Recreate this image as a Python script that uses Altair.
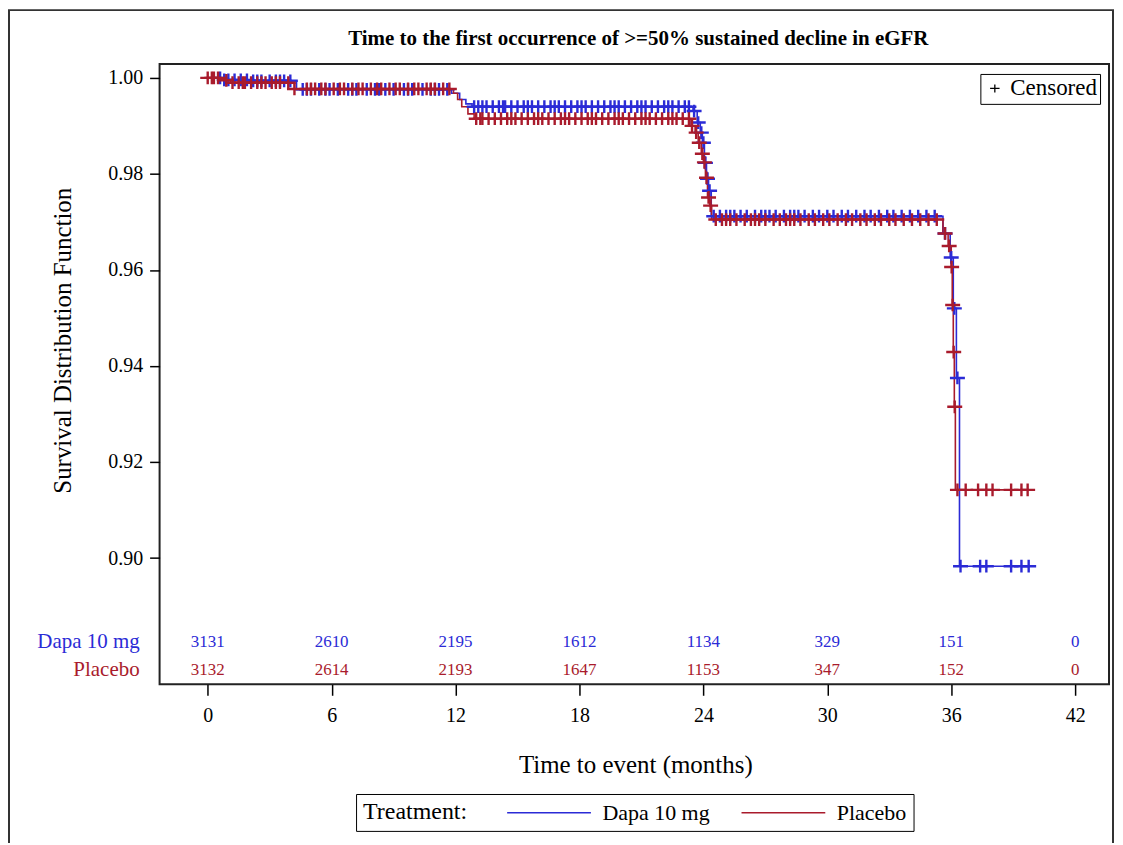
import altair as alt
import pandas as pd

FONT = "Liberation Serif"

arms = ["Dapa 10 mg", "Placebo"]
colors = ["#2b2bd6", "#a91b2c"]

# Kaplan-Meier event steps (time in months, survival after the step)
dapa_event_t = [0.8, 2.0, 4.3, 11.8, 12.2, 12.5, 12.8, 23.5, 23.7, 23.85, 23.95, 24.05, 24.15,
                24.25, 24.38, 35.6, 35.95, 36.1, 36.25, 36.4]
dapa_event_s = [0.9996, 0.9994, 0.9976, 0.9968, 0.9955, 0.9946, 0.9940, 0.9931, 0.9907, 0.9886,
                0.9865, 0.9823, 0.9790, 0.9765, 0.9712, 0.9676, 0.9626, 0.9520, 0.9375, 0.8983]
dapa_end = 39.75

pla_event_t = [0.7, 1.1, 4.2, 11.9, 12.1, 12.3, 12.6, 12.9, 23.4, 23.6, 23.75, 23.9, 24.0, 24.1,
               24.2, 24.3, 24.4, 35.6, 35.85, 36.0, 36.05, 36.1, 36.15, 36.2]
pla_event_s = [0.9995, 0.9990, 0.9977, 0.9968, 0.9955, 0.9940, 0.9925, 0.9915, 0.9900, 0.9886,
               0.9865, 0.9842, 0.9824, 0.9792, 0.9751, 0.9734, 0.9705, 0.9676, 0.9650, 0.9606,
               0.9527, 0.9429, 0.9315, 0.9142]
pla_end = 39.7

# censoring times
dapa_cens_t = [0.6, 0.8, 1.0, 1.3, 1.6, 1.9, 2.2, 2.4, 2.6, 3.0, 3.3, 3.5, 3.7, 4.0,
               4.6, 4.8, 5.0, 5.4, 5.7, 5.9, 6.3, 6.8, 7.0, 7.2, 7.7, 8.1, 8.3, 8.6, 9.0, 9.5,
               9.7, 9.9, 10.4, 10.8, 11.0, 11.2, 11.6,
               12.9, 13.1, 13.3, 13.5, 13.8, 14.1, 14.3, 14.4, 14.7, 15.0, 15.3, 15.5, 15.7, 16.0,
               16.3, 16.6, 16.8, 17.0, 17.3, 17.6, 17.9, 18.1, 18.3, 18.6, 18.9, 19.2, 19.5, 19.7,
               19.9, 20.2, 20.5, 20.8, 21.0, 21.2, 21.5, 21.8, 22.1, 22.3, 22.5, 22.8, 23.1, 23.3,
               23.55, 23.75, 23.9, 24.0, 24.1, 24.2, 24.3,
               24.5, 24.8, 25.1, 25.3, 25.5, 25.8, 26.1, 26.5, 26.8, 27.0, 27.2, 27.5, 27.9, 28.2,
               28.4, 28.6, 28.9, 29.3, 29.6, 30.0, 30.3, 30.7, 31.0, 31.4, 31.8, 32.1, 32.5, 32.9,
               33.2, 33.6, 34.0, 34.4, 34.8, 35.2,
               35.7, 36.0, 36.15, 36.3,
               36.45, 37.4, 37.7, 38.9, 39.4, 39.75]
pla_cens_t = [0.0, 0.2, 0.3, 0.5, 0.9, 1.2, 1.5, 1.7, 1.8, 2.1, 2.4, 2.6, 2.8, 3.1, 3.3, 3.5,
              3.9, 4.2,
              4.8, 5.0, 5.2, 5.5, 5.7, 6.1, 6.4, 6.6, 7.0, 7.3, 7.5, 7.9, 8.2, 8.4, 8.8, 9.1, 9.3,
              9.7, 10.0, 10.2, 10.6, 10.8, 11.0, 11.4, 11.7,
              13.0, 13.2, 13.3, 13.6, 13.9, 14.2, 14.5, 14.7, 14.9, 15.2, 15.5, 15.8, 16.0, 16.2,
              16.5, 16.8, 17.1, 17.3, 17.5, 17.8, 18.1, 18.4, 18.6, 18.8, 19.1, 19.4, 19.7, 19.9,
              20.1, 20.4, 20.7, 21.0, 21.2, 21.4, 21.7, 22.0, 22.3, 22.5, 22.7, 23.0, 23.3,
              23.45, 23.65, 23.8, 23.95, 24.05, 24.15, 24.25, 24.35,
              24.6, 24.9, 25.1, 25.3, 25.6, 26.0, 26.3, 26.5, 26.7, 27.0, 27.4, 27.7, 28.0, 28.2,
              28.4, 28.7, 29.1, 29.4, 29.8, 30.1, 30.5, 30.9, 31.2, 31.6, 31.9, 32.3, 32.6, 33.0,
              33.3, 33.7, 34.1, 34.5, 34.9, 35.3,
              35.7, 35.9, 36.02, 36.07, 36.12, 36.17,
              36.3, 36.7, 37.3, 37.7, 38.0, 38.9, 39.4, 39.7]

# numbers at risk
risk_times = [0, 6, 12, 18, 24, 30, 36, 42]
dapa_risk = [3131, 2610, 2195, 1612, 1134, 329, 151, 0]
pla_risk = [3132, 2614, 2193, 1647, 1153, 347, 152, 0]

x_ticks = [0, 6, 12, 18, 24, 30, 36, 42]
y_ticks = [0.90, 0.92, 0.94, 0.96, 0.98, 1.00]

title_text = "Time to the first occurrence of >=50% sustained decline in eGFR"


def surv_at(t, ev_t, ev_s):
    s = 1.0
    for et, es in zip(ev_t, ev_s):
        if et <= t + 1e-9:
            s = es
    return s


line_rows, cens_rows, risk_rows = [], [], []
for arm, ev_t, ev_s, end, ct, risk in [
    (arms[0], dapa_event_t, dapa_event_s, dapa_end, dapa_cens_t, dapa_risk),
    (arms[1], pla_event_t, pla_event_s, pla_end, pla_cens_t, pla_risk),
]:
    line_rows.append({"arm": arm, "t": 0.0, "s": 1.0})
    for et, es in zip(ev_t, ev_s):
        line_rows.append({"arm": arm, "t": et, "s": es})
    line_rows.append({"arm": arm, "t": end, "s": ev_s[-1]})
    for c in ct:
        cens_rows.append({"arm": arm, "t": c, "s": surv_at(c, ev_t, ev_s), "kind": "Censored"})
    for rt, n in zip(risk_times, risk):
        risk_rows.append({"arm": arm, "t": rt, "n": str(n)})

line_df = pd.DataFrame(line_rows)
cens_df = pd.DataFrame(cens_rows)
risk_df = pd.DataFrame(risk_rows)

PLUS = "M-1,0L1,0M0,-0.85L0,0.85"

xscale = alt.Scale(domain=[-2.33, 43.64], nice=False, zero=False)
yscale = alt.Scale(domain=[0.8737, 1.0029], nice=False, zero=False)
cscale = alt.Scale(domain=arms, range=colors)

x_enc = alt.X("t:Q", scale=xscale, axis=alt.Axis(
    values=x_ticks, title="Time to event (months)", format="d",
    labelFont=FONT, labelFontSize=20, labelColor="black", labelPadding=10,
    titleFont=FONT, titleFontSize=25, titleFontWeight="normal", titleColor="black",
    titleX=477, titleY=80, titleBaseline="middle",
    tickSize=11, tickWidth=1.5, tickColor="black", domain=False, grid=False))
y_enc = alt.Y("s:Q", scale=yscale, axis=alt.Axis(
    values=y_ticks, title="Survival Distribution Function", format=".2f",
    labelFont=FONT, labelFontSize=20, labelColor="black", labelPadding=7,
    titleFont=FONT, titleFontSize=25, titleFontWeight="normal", titleColor="black",
    titleX=-97, titleY=277, titleBaseline="middle", titleAngle=270,
    tickSize=10, tickWidth=1.5, tickColor="black", domain=False, grid=False))

treat_legend = alt.Legend(
    orient="none", legendX=197, legendY=732, direction="horizontal",
    title="Treatment:", titleOrient="left", titleFont=FONT, titleFontSize=24,
    titleFontWeight="normal", titleColor="black", titleBaseline="middle", titleAnchor="middle",
    labelFont=FONT, labelFontSize=22, labelColor="black",
    symbolType="M-4,0L4,0", symbolSize=441, symbolStrokeWidth=1.5,
    strokeColor="black", padding=7, labelOffset=42, titlePadding=70, columnPadding=28)

lines = alt.Chart(line_df).mark_line(interpolate="step-after", strokeWidth=1.6).encode(
    x=x_enc, y=y_enc,
    color=alt.Color("arm:N", scale=cscale, legend=treat_legend, sort=arms),
)

cens = alt.Chart(cens_df).mark_point(filled=False, size=225, strokeWidth=2.4, opacity=1).encode(
    x="t:Q", y="s:Q",
    color=alt.Color("arm:N", scale=cscale, sort=arms),
    shape=alt.Shape("kind:N", scale=alt.Scale(domain=["Censored"], range=[PLUS]),
                    legend=alt.Legend(orient="none", legendX=823, legendY=10, title=None,
                                      labelFont=FONT, labelFontSize=23, labelColor="black",
                                      symbolSize=90, symbolStrokeColor="black",
                                      symbolStrokeWidth=1.3, symbolFillColor="transparent",
                                      strokeColor="black", padding=3, labelOffset=4)),
)

risk_layers = []
for arm, col, ypix in [(arms[0], colors[0], 580), (arms[1], colors[1], 608)]:
    sub = risk_df[risk_df["arm"] == arm]
    risk_layers.append(
        alt.Chart(sub).mark_text(font=FONT, fontSize=17, color=col, baseline="middle").encode(
            x="t:Q", y=alt.value(ypix), text="n:N"))
    risk_layers.append(
        alt.Chart(pd.DataFrame({"label": [arm]})).mark_text(
            font=FONT, fontSize=21, color=col, align="right", baseline="middle").encode(
            x=alt.value(-20), y=alt.value(ypix), text="label:N"))

frame = alt.Chart(pd.DataFrame({"k": [0]})).mark_rect(
    fillOpacity=0, stroke="#333333", strokeWidth=2).encode(
    x=alt.value(-151), x2=alt.value(956), y=alt.value(-54), y2=alt.value(840))

title = alt.Chart(pd.DataFrame({"label": [title_text]})).mark_text(
    font=FONT, fontSize=21, fontWeight="bold", color="black", align="center",
    baseline="middle").encode(x=alt.value(480), y=alt.value(-25), text="label:N")

chart = alt.layer(frame, title, lines, cens, *risk_layers).properties(
    width=952, height=622,
    padding={"left": 152, "top": 55, "right": 6, "bottom": 158},
    autosize=alt.AutoSizeParams(type="none"),
    background="white",
).configure_view(stroke="#222222", strokeWidth=2)

chart.save("out.html", embed_options={"renderer": "svg", "actions": False})
